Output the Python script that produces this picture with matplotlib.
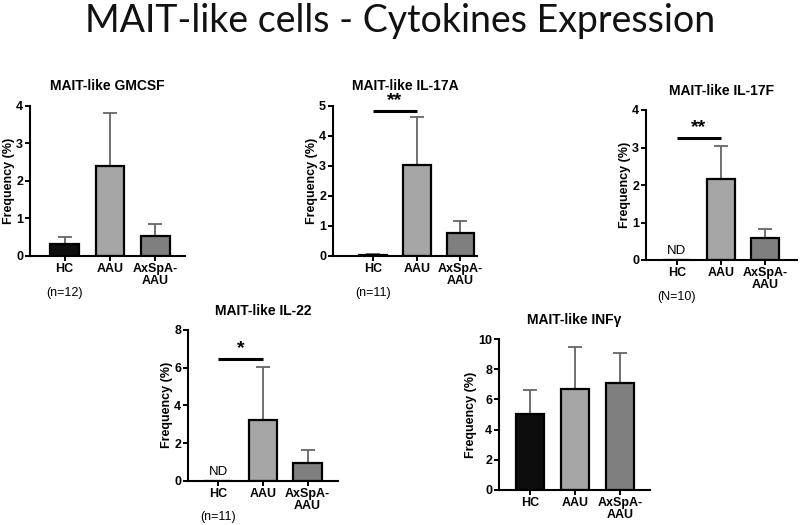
import numpy as np
import matplotlib.pyplot as plt

plt.rcParams['font.family'] = ['Liberation Sans', 'DejaVu Sans']

groups = ['HC', 'AAU', 'AxSpA-\nAAU']
colors = ['#0d0d0d', '#a6a6a6', '#7f7f7f']

titles = ['MAIT-like GMCSF', 'MAIT-like IL-17A', 'MAIT-like IL-17F',
          'MAIT-like IL-22', 'MAIT-like INFγ']
means = [
    [0.32, 2.40, 0.53],
    [0.03, 3.03, 0.78],
    [0.0, 2.15, 0.60],
    [0.0, 3.20, 0.96],
    [5.03, 6.70, 7.08],
]
errs = [
    [0.19, 1.41, 0.31],
    [0.03, 1.58, 0.38],
    [0.0, 0.90, 0.23],
    [0.0, 2.82, 0.67],
    [1.59, 2.79, 1.97],
]
ymax = [4, 5, 4, 8, 10]
n_labels = ['(n=12)', '(n=11)', '(N=10)', '(n=11)', None]
not_detected = [False, False, True, True, False]
# significance: (y of bar, stars)
signif = [None, (4.83, '**'), (3.26, '**'), (6.46, '*'), None]

# axes boxes in pixels: left, right, top, bottom, xlim left, xlim right
boxes = [
    (30, 185, 105.7, 256, -0.76, 2.65),
    (333, 477, 105.7, 256, -0.92, 2.38),
    (646, 797, 110, 260, -0.70, 2.73),
    (188, 338, 330, 480.7, -0.67, 2.68),
    (499, 650, 339, 490, -0.69, 2.67),
]

W, H = 800, 525
fig = plt.figure(figsize=(8, 5.25), dpi=100)
fig.text(0.5, 1 - 21 / H, 'MAIT-like cells - Cytokines Expression',
         ha='center', va='center', fontsize=27, family='Lato', color='#111111')

x = np.arange(3)
for i in range(5):
    l, r, t, b, x0, x1 = boxes[i]
    ax = fig.add_axes([l / W, 1 - b / H, (r - l) / W, (b - t) / H])
    ax.errorbar(x, means[i], yerr=[np.zeros(3), errs[i]], fmt='none',
                ecolor='#666666', elinewidth=1.3, capsize=5, capthick=1.3, zorder=1)
    ax.bar(x, means[i], width=0.63, color=colors, edgecolor='black',
           linewidth=1.6, zorder=2)
    ax.set_xlim(x0, x1)
    ax.set_ylim(0, ymax[i])
    ax.set_xticks(x)
    ax.set_xticklabels(groups, fontsize=9, weight='bold', linespacing=1.0)
    ax.tick_params(axis='both', width=1.4, length=3.5, labelsize=9, pad=1.5)
    for lab in ax.get_yticklabels():
        lab.set_weight('bold')
    ax.set_ylabel('Frequency (%)', fontsize=9, weight='bold', labelpad=1)
    ax.set_title(titles[i], fontsize=10, weight='bold', pad=11)
    for s in ['top', 'right']:
        ax.spines[s].set_visible(False)
    for s in ['left', 'bottom']:
        ax.spines[s].set_linewidth(1.5)
    if n_labels[i]:
        ax.annotate(n_labels[i], (0, 0), xycoords=('data', 'axes fraction'),
                    xytext=(0, -22), textcoords='offset points',
                    ha='center', va='top', fontsize=9)
    if not_detected[i]:
        ax.text(0, ymax[i] * 0.02, 'ND', ha='center', va='bottom', fontsize=9.5)
    if signif[i]:
        y, stars = signif[i]
        ax.plot([0, 1], [y, y], color='black', lw=2.2, clip_on=False,
                solid_capstyle='butt')
        ax.text(0.5, y + ymax[i] * 0.01, stars, ha='center', va='bottom',
                fontsize=14, weight='bold')

fig.savefig('out.png', dpi=100)
